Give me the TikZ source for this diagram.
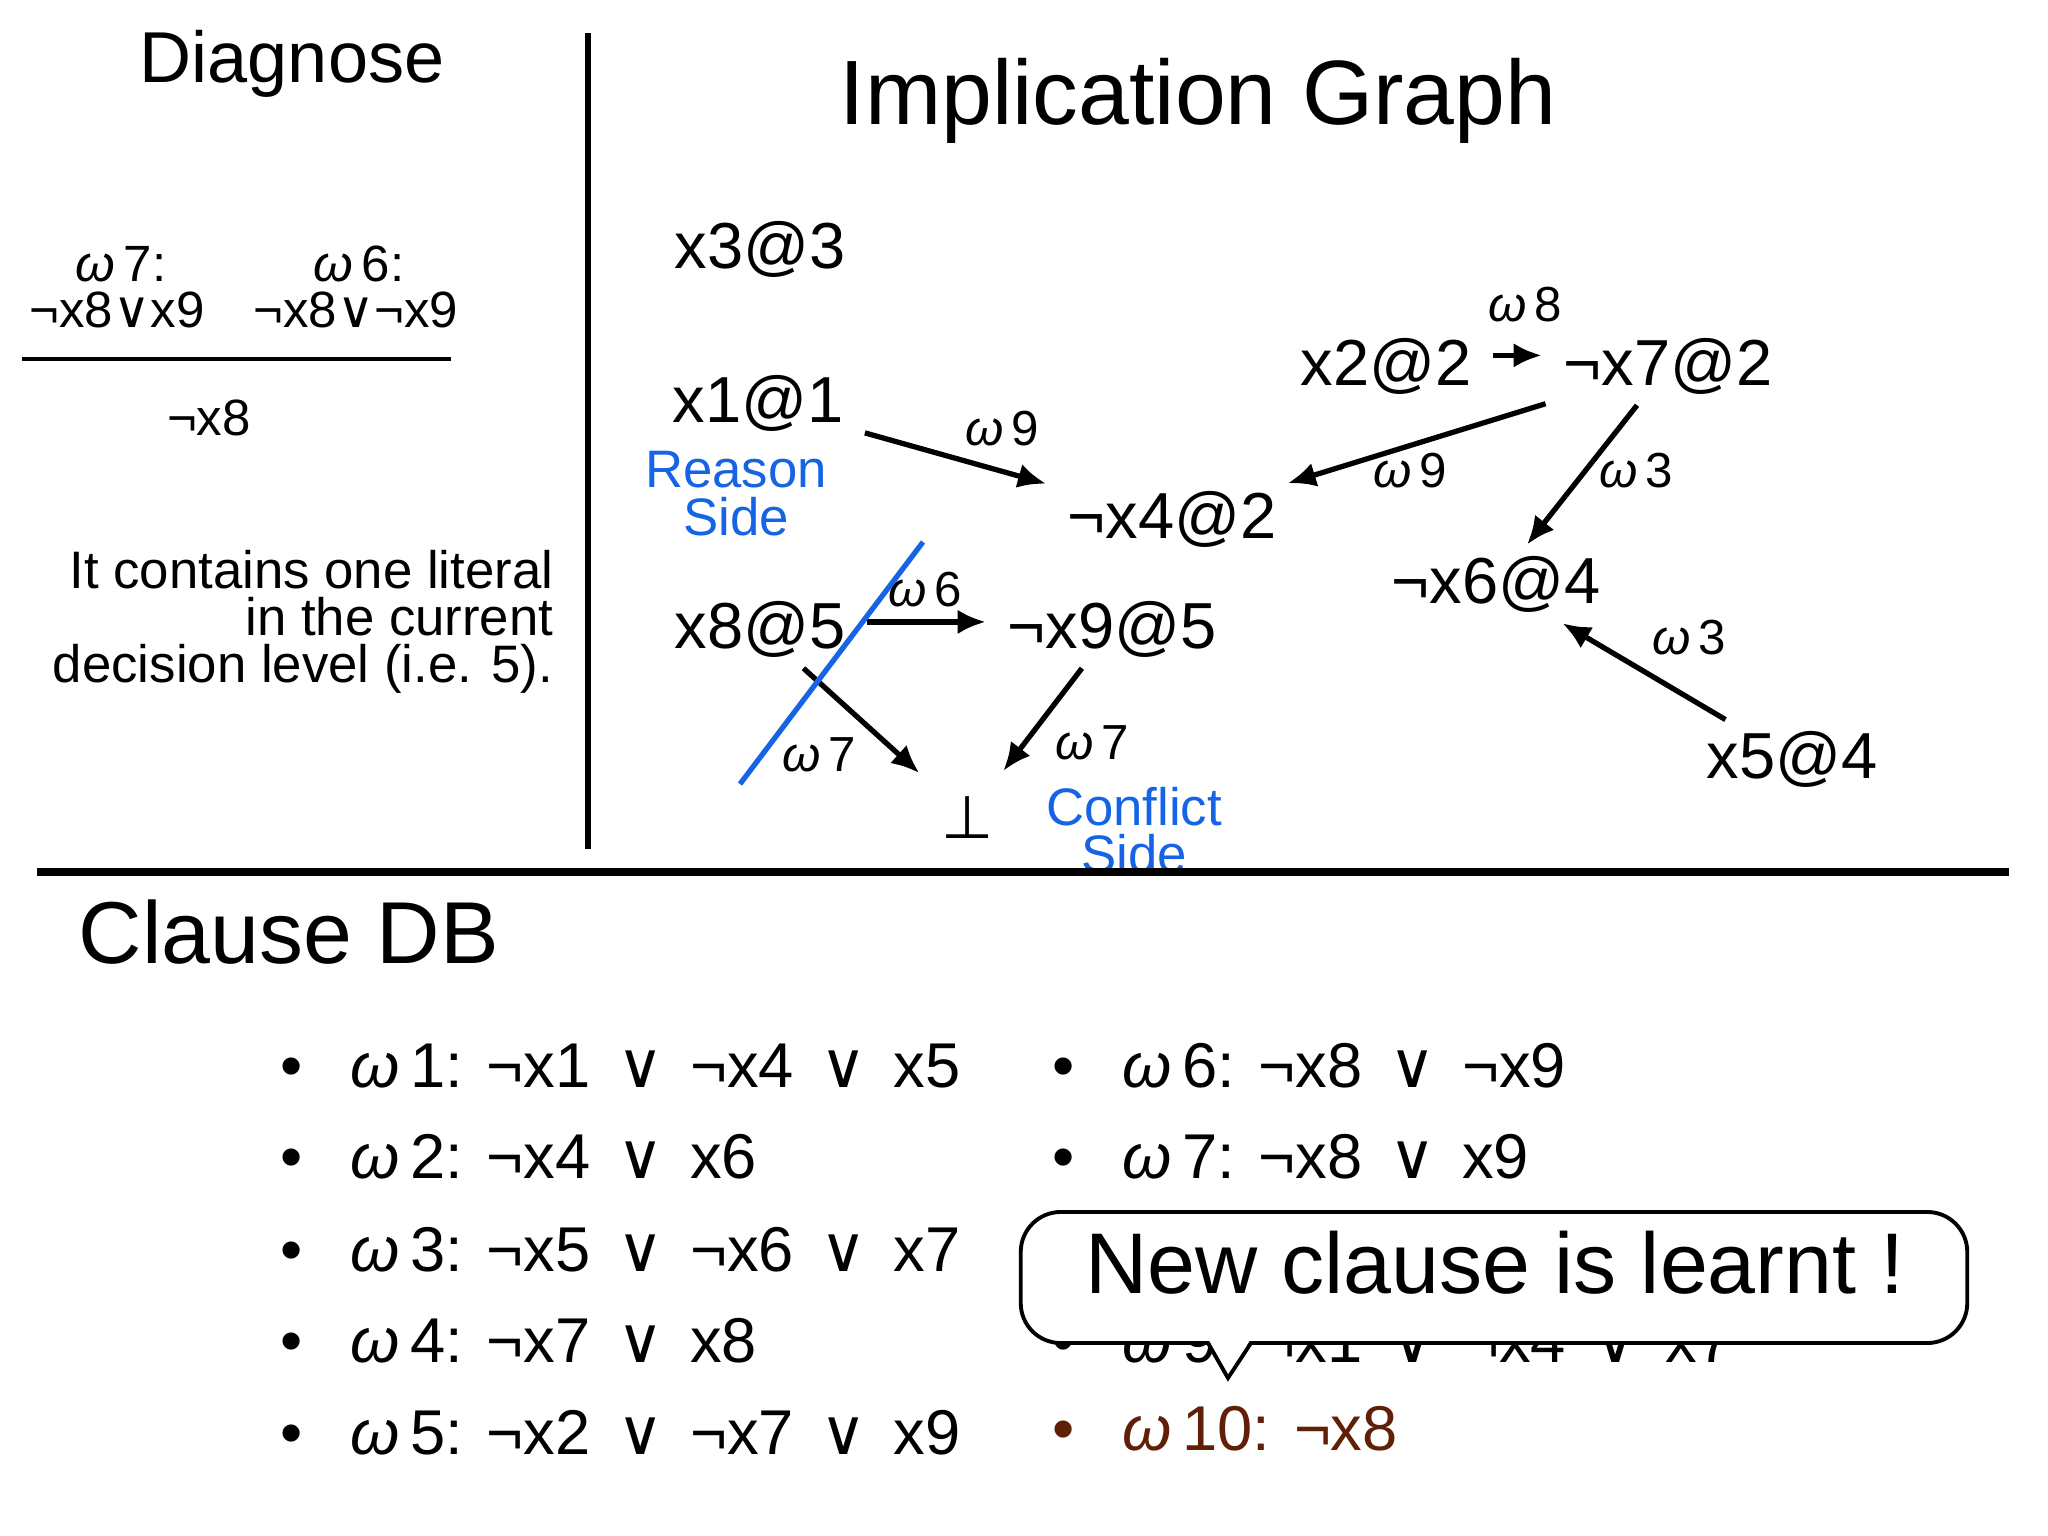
\documentclass[tikz,border=0pt]{standalone}
\usepackage{fontspec}
\setmainfont{Liberation Sans}
\newfontfamily\djv{DejaVu Sans}
\usetikzlibrary{arrows.meta,calc}
\definecolor{sideblue}{RGB}{22,100,230}
\definecolor{learnt}{RGB}{96,32,8}
\newcommand\fs[1]{\fontsize{#1}{#1}\selectfont}
\newcommand\orr{{\djv ∨}}
\newcommand\om{{\itshape ω}\,}
\newcommand\bul{\makebox[0.7cm][l]{•}}
\newcommand\gapsp{\hspace{0.42em}}
\begin{document}
\begin{tikzpicture}[x=0.01cm,y=-0.01cm,
  every node/.style={inner sep=0pt},
  gnode/.style={font=\fs{18.5}, inner sep=3pt, anchor=base},
  elabel/.style={font=\fs{14}, anchor=base},
  arr/.style={draw, line width=1.5pt, -{Latex[length=8pt,width=7pt]}},
  sidetxt/.style={font=\fs{15}, text=sideblue, anchor=base},
  diagtxt/.style={font=\fs{14.5}, anchor=base},
  notetxt/.style={font=\fs{15}, anchor=base east},
  item/.style={font=\fs{18}, anchor=base west},
]
\useasboundingbox (0,0) rectangle (2048,1536);

% ---------- Diagnose panel ----------
\node[font=\fs{20.5}, anchor=base] (diag) at (292,82) {Diagnose};
\node[diagtxt] (w7a) at (121,281) {\om 7:};
\node[diagtxt] (c7) at (117,327) {¬x8\orr x9};
\node[diagtxt] (w6a) at (359,281) {\om 6:};
\node[diagtxt] (c6) at (356,327) {¬x8\orr¬x9};
\coordinate (fracL) at (22,359);
\coordinate (fracR) at (451,359);
\draw[line width=1.3pt] (fracL) -- (fracR);
\node[diagtxt] (res) at (209,435) {¬x8};
\node[notetxt] (t1) at (554,588) {It contains one literal};
\node[notetxt] (t2) at (554,635) {in the current};
\node[notetxt] (t3) at (554,682) {decision level (i.e. 5).};

% ---------- dividers ----------
\coordinate (vtop) at (588,33);
\coordinate (vbot) at (588,849);
\draw[line width=1.6pt] (vtop) -- (vbot);

% ---------- Implication graph ----------
\node[font=\fs{26}, anchor=base] (title) at (1198,124) {Implication Graph};

\node[gnode] (x3) at (760,268) {x3@3};
\node[gnode] (x1) at (758,422) {x1@1};
\node[gnode] (x8) at (760,648) {x8@5};
\node[gnode] (nx9) at (1112,648) {¬x9@5};
\node[gnode] (nx4) at (1172,538) {¬x4@2};
\node[gnode] (x2) at (1386,385) {x2@2};
\node[gnode] (nx7) at (1668,385) {¬x7@2};
\node[gnode] (nx6) at (1496,603) {¬x6@4};
\node[gnode] (x5) at (1792,778) {x5@4};
\node[font=\djv\fs{17}, inner sep=3pt, anchor=base] (bot) at (968,838) {⊥};

\node[sidetxt] (reason1) at (736,487) {Reason};
\node[sidetxt] (reason2) at (736,535) {Side};
\node[sidetxt] (conf1) at (1134,825) {Conflict};
\node[sidetxt] (conf2) at (1134,872) {Side};

\draw[arr, shorten <=3pt, shorten >=3pt] (x1) -- (nx4);
\draw[arr, shorten <=2pt] (nx7) -- (nx4);
\draw[arr, shorten <=3pt, shorten >=3pt] ([yshift=3pt]x2.east) -- ([yshift=3pt]nx7.west);
\draw[arr] (nx7) -- (nx6);
\draw[arr] (x5) -- (nx6);
\draw[arr, shorten <=3pt, shorten >=3pt] ([yshift=2pt]x8.east) -- ([yshift=2pt]nx9.west);
\draw[arr, shorten >=5pt] (x8) -- (bot);
\draw[arr, shorten >=5pt] (nx9) -- (bot);

\node[elabel] (l9a) at (1002,445) {\om 9};
\node[elabel] (l9b) at (1410,487) {\om 9};
\node[elabel] (l8) at (1525,321) {\om 8};
\node[elabel] (l3a) at (1636,487) {\om 3};
\node[elabel] (l3b) at (1689,654) {\om 3};
\node[elabel] (l6) at (925,606) {\om 6};
\node[elabel] (l7a) at (819,771) {\om 7};
\node[elabel] (l7b) at (1092,759) {\om 7};

\coordinate (cutA) at (923,542);
\coordinate (cutB) at (740,784);
\draw[sideblue, line width=1.5pt] (cutA) -- (cutB);

\coordinate (hl) at (37,872);
\coordinate (hr) at (2009,872);
\draw[line width=2pt] (hl) -- (hr);

% ---------- Clause DB ----------
\node[font=\fs{25}, anchor=base west] (cdb) at (78,963) {Clause DB};

\node[item] (w1) at (280,1087) {\bul\om 1: ¬x1\gapsp\orr\gapsp¬x4\gapsp\orr\gapsp x5};
\node[item] (w2) at (280,1178) {\bul\om 2: ¬x4\gapsp\orr\gapsp x6};
\node[item] (w3) at (280,1271) {\bul\om 3: ¬x5\gapsp\orr\gapsp¬x6\gapsp\orr\gapsp x7};
\node[item] (w4) at (280,1362) {\bul\om 4: ¬x7\gapsp\orr\gapsp x8};
\node[item] (w5) at (280,1454) {\bul\om 5: ¬x2\gapsp\orr\gapsp¬x7\gapsp\orr\gapsp x9};

\node[item] (w6) at (1052,1087) {\bul\om 6: ¬x8\gapsp\orr\gapsp¬x9};
\node[item] (w7) at (1052,1178) {\bul\om 7: ¬x8\gapsp\orr\gapsp x9};
\node[item] (w9) at (1052,1362) {\bul\om 9: ¬x1\gapsp\orr\gapsp¬x4\gapsp\orr\gapsp x7};
\node[item, text=learnt] (w10) at (1052,1450) {\bul\om 10: ¬x8};

% ---------- callout ----------
\node[draw, fill=white, line width=1.1pt, rounded corners=0.4cm,
      minimum width=9.46cm, minimum height=1.31cm] (call) at (1494,1277.5) {};
\coordinate (tailL) at (1208,1343);
\coordinate (tailT) at (1228,1378);
\coordinate (tailR) at (1251,1343);
\fill[white] ([yshift=1.3pt]tailL) -- (tailT) -- ([yshift=1.3pt]tailR) -- cycle;
\draw[line width=1.1pt, line join=miter] (tailL) -- (tailT) -- (tailR);
\node[font=\fs{24.5}, anchor=base] (calltxt) at (1495,1293) {New clause is learnt !};
\end{tikzpicture}
\end{document}
